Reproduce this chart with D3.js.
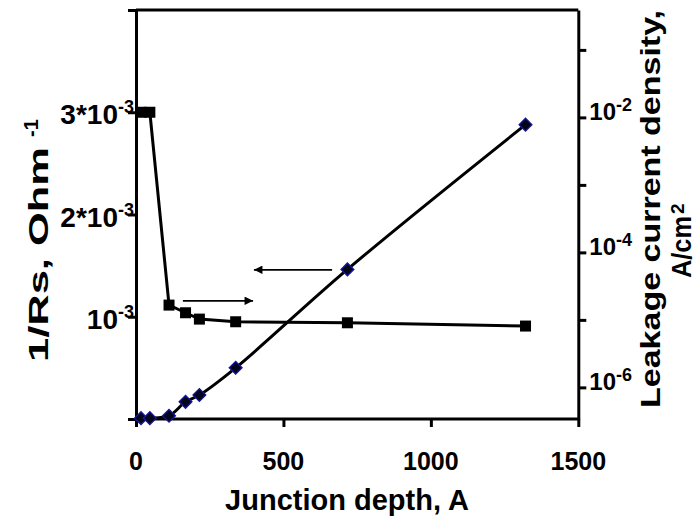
<!DOCTYPE html>
<html lang="en">
<head>
    <meta charset="UTF-8">
    <title>Junction depth</title>
    <script src="https://d3js.org/d3.v7.min.js"></script>
    <style>
        body { margin: 0; background: #fff; }
        svg text { font-family: "Liberation Sans", Arial, sans-serif; font-weight: bold; fill: #000; }
    </style>
</head>
<body>
    <svg id="chart"></svg>

    <script>
        // junction depth, A
        const depth = [17, 47, 112, 168, 215, 338, 717, 1321];
        // 1/Rs, Ohm^-1  (squares, left axis)
        const invRs = [3.0e-3, 3.0e-3, 1.114e-3, 1.039e-3, 0.977e-3, 0.951e-3, 0.941e-3, 0.909e-3];
        // leakage current density, A/cm2  (diamonds, right axis)
        const leakage = [3.5e-7, 3.5e-7, 3.8e-7, 6.1e-7, 7.7e-7, 1.95e-6, 5.6e-5, 7.8e-3];

        const xTicks = [0, 500, 1000, 1500];
        const leftTicks = [0, 1e-3, 2e-3, 3e-3, 4e-3];
        const leftBase = ['', '10', '2*10', '3*10', ''];
        const leftExp = ['', '-3', '-3', '-3', ''];
        const rightTicks = [1e-1, 1e-2, 1e-3, 1e-4, 1e-5, 1e-6];
        const rightBase = ['', '10', '', '10', '', '10'];
        const rightExp = ['', '-2', '', '-4', '', '-6'];

        // arrows: [x1, y1, x2, y2] in data units of bottom / left axis
        const arrows = [
            [159, 1.156e-3, 397, 1.156e-3],
            [665, 1.459e-3, 400, 1.459e-3]
        ];

        const W = 699, H = 517;
        const svg = d3.select('#chart').attr('width', W).attr('height', H);

        const x = d3.scaleLinear().domain([0, 1500]).range([136, 578.3]);
        const yL = d3.scaleLinear().domain([0, 4e-3]).range([419, 10]);
        const yR = d3.scaleLog().domain([3.4e-7, 0.39]).range([419, 10]);

        svg.append('defs').append('marker')
            .attr('id', 'head')
            .attr('viewBox', '0 0 10 10')
            .attr('refX', 10).attr('refY', 5)
            .attr('markerWidth', 6).attr('markerHeight', 5)
            .attr('markerUnits', 'strokeWidth')
            .attr('orient', 'auto')
            .append('path').attr('d', 'M0,0L10,5L0,10Z').attr('fill', '#000');

        // frame top
        svg.append('line')
            .attr('x1', x(0)).attr('x2', x(1500))
            .attr('y1', yL(4e-3)).attr('y2', yL(4e-3))
            .attr('stroke', '#000').attr('stroke-width', 3);

        // axes
        const gx = svg.append('g').attr('transform', `translate(0,${yL(0)})`)
            .call(d3.axisBottom(x).tickValues(xTicks).tickSize(8).tickSizeOuter(0).tickFormat(''));
        const gl = svg.append('g').attr('transform', `translate(${x(0)},0)`)
            .call(d3.axisLeft(yL).tickValues(leftTicks).tickSize(8).tickSizeOuter(0).tickFormat(''));
        const gr = svg.append('g').attr('transform', `translate(${x(1500)},0)`)
            .call(d3.axisRight(yR).tickValues(rightTicks).tickSize(8).tickSizeOuter(0).tickFormat(''));
        [gx, gl, gr].forEach(g => {
            g.selectAll('path, line').attr('stroke', '#000').attr('stroke-width', 3);
        });
        gx.select('.domain').attr('d', `M${x(0) - 1.5},0H${x(1500) + 1.5}`);

        // x tick labels
        svg.append('g').selectAll('text')
            .data(xTicks).enter().append('text')
            .attr('x', d => x(d)).attr('y', 470)
            .attr('text-anchor', 'middle')
            .style('font-size', '25px')
            .text(d => d);

        // left tick labels
        const lt = svg.append('g').selectAll('text')
            .data(leftTicks).enter().append('text')
            .attr('x', 134).attr('y', d => yL(d) + 12)
            .attr('text-anchor', 'end')
            .style('font-size', '28px');
        lt.append('tspan').text((d, i) => leftBase[i]);
        lt.append('tspan').attr('dy', -11).style('font-size', '18px').text((d, i) => leftExp[i]);

        // right tick labels
        const rt = svg.append('g').selectAll('text')
            .data(rightTicks).enter().append('text')
            .attr('x', x(1500) + 11).attr('y', d => yR(d) + 3)
            .style('font-size', '24px');
        rt.append('tspan').text((d, i) => rightBase[i]);
        rt.append('tspan').attr('dy', -9).style('font-size', '18px').text((d, i) => rightExp[i]);

        // axis titles
        svg.append('text')
            .attr('x', 347).attr('y', 510)
            .attr('text-anchor', 'middle')
            .style('font-size', '29px')
            .text('Junction depth, A');

        svg.append('text')
            .attr('transform', 'translate(48,362) rotate(-90)')
            .attr('textLength', 215).attr('lengthAdjust', 'spacingAndGlyphs')
            .style('font-size', '28px')
            .text('1/Rs, Ohm');
        svg.append('text')
            .attr('transform', 'translate(38,137) rotate(-90)')
            .style('font-size', '20px')
            .text('-1');

        svg.append('text')
            .attr('transform', 'translate(660,209) rotate(-90)')
            .attr('text-anchor', 'middle')
            .attr('textLength', 398).attr('lengthAdjust', 'spacingAndGlyphs')
            .style('font-size', '28px')
            .text('Leakage current density,');
        svg.append('text')
            .attr('transform', 'translate(691,278) rotate(-90)')
            .attr('textLength', 62).attr('lengthAdjust', 'spacingAndGlyphs')
            .style('font-size', '28px')
            .text('A/cm');
        svg.append('text')
            .attr('transform', 'translate(684,214) rotate(-90)')
            .style('font-size', '19px')
            .text('2');

        // leakage series (smoothed)
        const leakLine = d3.line()
            .x((d, i) => x(depth[i]))
            .y(d => yR(d))
            .curve(d3.curveCatmullRom.alpha(0.5));
        svg.append('path')
            .datum(leakage)
            .attr('d', leakLine)
            .attr('fill', 'none').attr('stroke', '#000').attr('stroke-width', 3);

        // 1/Rs series
        const rsLine = d3.line()
            .x((d, i) => x(depth[i]))
            .y(d => yL(d));
        svg.append('path')
            .datum(invRs)
            .attr('d', rsLine)
            .attr('fill', 'none').attr('stroke', '#000').attr('stroke-width', 3);

        svg.append('g').selectAll('rect')
            .data(invRs).enter().append('rect')
            .attr('x', (d, i) => x(depth[i]) - 5.5)
            .attr('y', d => yL(d) - 5.5)
            .attr('width', 11).attr('height', 11)
            .attr('fill', '#000');

        const diamond = d3.symbol().type(d3.symbolSquare).size(82);
        svg.append('g').selectAll('path')
            .data(leakage).enter().append('path')
            .attr('d', diamond)
            .attr('transform', (d, i) => `translate(${x(depth[i])},${yR(d)}) rotate(45)`)
            .attr('fill', '#05051a')
            .attr('stroke', '#16169a').attr('stroke-width', 1.3);

        // arrows
        svg.append('g').selectAll('line')
            .data(arrows).enter().append('line')
            .attr('x1', d => x(d[0])).attr('y1', d => yL(d[1]))
            .attr('x2', d => x(d[2])).attr('y2', d => yL(d[3]))
            .attr('stroke', '#000').attr('stroke-width', 1.7)
            .attr('marker-end', 'url(#head)');
    </script>
</body>
</html>
